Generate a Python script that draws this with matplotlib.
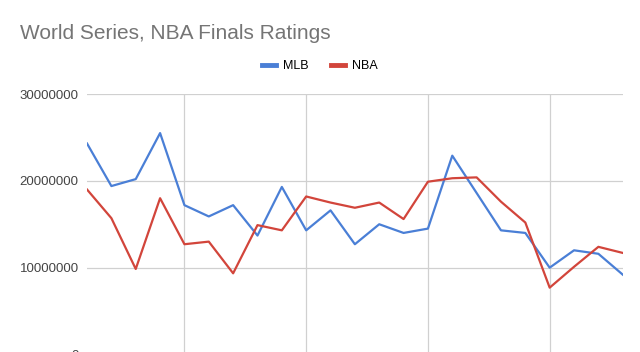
import matplotlib.pyplot as plt
from matplotlib.lines import Line2D

plt.rcParams['font.family'] = ['Liberation Sans', 'DejaVu Sans']

# Valores (espectadores)
indices = list(range(23))
mlb = [24.3, 19.4, 20.2, 25.5, 17.2, 15.9, 17.2, 13.7, 19.3, 14.3,
       16.6, 12.7, 15.0, 14.0, 14.5, 22.9, 18.6, 14.3, 14.0, 10.0,
       12.0, 11.6, 9.2]
nba = [19.0, 15.7, 9.85, 18.0, 12.7, 13.0, 9.35, 14.9, 14.3, 18.2,
       17.5, 16.9, 17.5, 15.6, 19.9, 20.3, 20.4, 17.6, 15.2, 7.7,
       10.1, 12.4, 11.7]
mlb = [v * 1e6 for v in mlb]
nba = [v * 1e6 for v in nba]
y_ticks = [0, 10000000, 20000000, 30000000]
x_grid = [4, 9, 14, 19]

blue = '#4a7fd6'
red = '#d2453b'

fig = plt.figure(figsize=(6.4, 3.52), dpi=100)
ax = fig.add_axes([0.136, -0.0071, 0.837, 0.740])

ax.plot(indices, mlb, color=blue, linewidth=1.6, label='MLB')
ax.plot(indices, nba, color=red, linewidth=1.6, label='NBA')

ax.set_xlim(0, 22)
ax.set_ylim(0, 30000000)
ax.set_yticks(y_ticks)
ax.set_yticklabels([str(v) for v in y_ticks])
ax.set_xticks(x_grid)
ax.set_xticklabels([])
ax.grid(True, color='#d0d0d0', linewidth=0.9)
ax.set_axisbelow(True)
ax.tick_params(length=0, labelsize=9.5, labelcolor='#444444', pad=6)
for s in ax.spines.values():
    s.set_visible(False)

fig.text(0.031, 0.905, 'World Series, NBA Finals Ratings', fontsize=15,
         color='#757575', ha='left', va='center')

handles = [Line2D([], [], color=blue, linewidth=3.5),
           Line2D([], [], color=red, linewidth=3.5)]
fig.legend(handles, ['MLB', 'NBA'], loc='center', bbox_to_anchor=(0.5, 0.812),
           ncol=2, frameon=False, fontsize=9, handlelength=1.1,
           handletextpad=0.6, columnspacing=1.8)

fig.savefig('out.png', dpi=100)
